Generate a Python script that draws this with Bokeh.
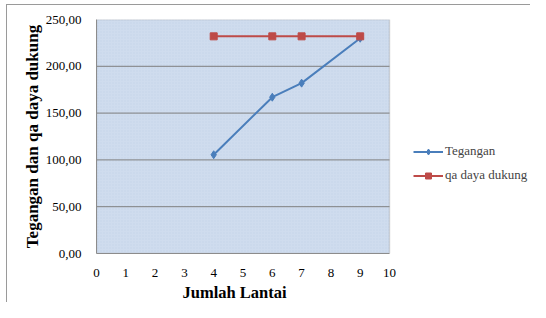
from bokeh.plotting import figure
from bokeh.models import (Legend, LegendItem, CustomJSTickFormatter, FixedTicker,
                          Range1d, BoxAnnotation, Title, InlineStyleSheet)
from bokeh.embed import file_html
from bokeh.resources import INLINE

lantai = [4, 6, 7, 9]
tegangan = [105.5, 167.0, 182.0, 230.0]
qa_daya_dukung = [232.0, 232.0, 232.0, 232.0]
x_ticks = list(range(0, 11))
y_ticks = [0, 50, 100, 150, 200, 250]

FONT = "Liberation Serif, serif"

# layout (pixels)
W, H = 530, 302
LEFT, TOP, BOTTOM = 96, 19, 48
AREA_RIGHT = 389            # right edge of the shaded plot area
x0, x1 = x_ticks[0], x_ticks[-1]
y0, y1 = y_ticks[0], y_ticks[-1]
# frame extends to the figure's right edge so the legend can sit in it
x_end = x0 + (x1 - x0) * (W - LEFT) / (AREA_RIGHT - LEFT)

# thin chart-area border (left and top edges) as in the reference
frame_css = InlineStyleSheet(css="""
:host::after {
  content: "";
  position: absolute;
  left: 6px; top: 4px; right: 0px; bottom: 0px;
  border-left: 1px solid #9a9a9a;
  border-top: 1px solid #9a9a9a;
  pointer-events: none;
}
""")

p = figure(width=W, height=H, output_backend="svg", toolbar_location=None,
           x_range=Range1d(x0, x_end), y_range=Range1d(y0, y1),
           min_border_left=LEFT, min_border_right=0, min_border_top=TOP,
           min_border_bottom=BOTTOM, stylesheets=[frame_css])

p.background_fill_color = "white"
p.border_fill_color = "white"
p.outline_line_color = None
p.xgrid.visible = False
p.ygrid.visible = False

area = BoxAnnotation(left=x0, right=x1, bottom=y0, top=y1, level="underlay",
                     fill_color="#cfdcee", fill_alpha=1,
                     hatch_pattern="dot", hatch_color="#bccde4", hatch_alpha=0.6,
                     hatch_scale=3, hatch_weight=1,
                     line_color="#8c8c8c", line_width=1.5)
p.add_layout(area)

# horizontal grid lines
grid_y = y_ticks[1:-1]
p.segment(x0=[x0] * len(grid_y), x1=[x1] * len(grid_y), y0=grid_y, y1=grid_y,
          line_color="#7f7f7f", line_width=1)

p.xaxis.ticker = FixedTicker(ticks=x_ticks)
p.yaxis.ticker = FixedTicker(ticks=y_ticks)
p.xaxis.bounds = (x0, x1)
p.yaxis.formatter = CustomJSTickFormatter(code="return tick.toFixed(2).replace('.', ',');")

for ax in (p.xaxis[0], p.yaxis[0]):
    ax.axis_line_color = "#8c8c8c"
    ax.major_tick_line_color = None
    ax.minor_tick_line_color = None
    ax.major_label_text_font = FONT
    ax.major_label_text_font_size = "13px"
    ax.major_label_text_color = "black"
    ax.axis_label_text_font = FONT
    ax.axis_label_text_font_style = "bold"
    ax.axis_label_text_color = "black"

p.yaxis.axis_label = "Tegangan dan qa daya dukung"
p.yaxis.axis_label_text_font_size = "17px"
p.xaxis.major_label_standoff = 9
p.yaxis.major_label_standoff = 9
p.yaxis.axis_label_standoff = 1

xlabel = Title(text="Jumlah Lantai", align="left", offset=86, standoff=2,
               text_font=FONT, text_font_size="16.5px", text_font_style="bold",
               text_color="black")
p.add_layout(xlabel, "below")

blue = "#4a7ebb"
red = "#be4b48"

l1 = p.line(lantai, tegangan, line_color=blue, line_width=2)
m1 = p.scatter(lantai, tegangan, marker="diamond", size=8, fill_color=blue, line_color=blue)
l2 = p.line(lantai, qa_daya_dukung, line_color=red, line_width=2)
m2 = p.scatter(lantai, qa_daya_dukung, marker="square", size=7, fill_color=red, line_color=red)

legend = Legend(items=[LegendItem(label="Tegangan", renderers=[l1, m1]),
                       LegendItem(label="qa daya dukung", renderers=[l2, m2])],
                location=(317, 70))
legend.label_text_font = FONT
legend.label_text_font_size = "13px"
legend.background_fill_alpha = 0
legend.border_line_color = None
legend.glyph_width = 30
legend.glyph_height = 15
legend.label_height = 15
legend.spacing = 8
legend.padding = 2
legend.margin = 0
legend.label_standoff = 2
p.add_layout(legend, "center")

open("out.html", "w").write(file_html(p, INLINE))
